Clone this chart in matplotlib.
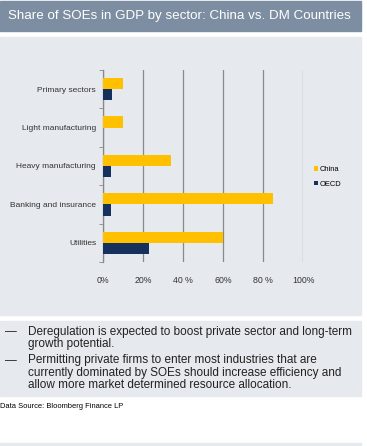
import matplotlib
matplotlib.use("Agg")
import matplotlib.pyplot as plt
from matplotlib.patches import Rectangle
import numpy as np

plt.rcParams["font.family"] = ["Liberation Sans", "DejaVu Sans"]

sectors = ["Primary sectors", "Light manufacturing", "Heavy manufacturing",
           "Banking and insurance", "Utilities"]
china = [10, 10, 34, 85, 60]
oecd = [4.5, 0, 4, 4, 23]
xticks = [0, 20, 40, 60, 80, 100]
xtick_labels = ["0%", "20%", "40 %", "60%", "80 %", "100%"]

title = "Share of SOEs in GDP by sector: China vs. DM Countries"
bullets = [
    "Deregulation is expected to boost private sector and long-term\ngrowth potential.",
    "Permitting private firms to enter most industries that are\ncurrently dominated by SOEs should increase efficiency and\nallow more market determined resource allocation.",
]
source = "Data Source: Bloomberg Finance LP"

W, H = 367, 446
fig = plt.figure(figsize=(W / 100, H / 100), dpi=100)
fig.patch.set_facecolor("white")


def fx(px):
    return px / W


def fy(py):
    return 1 - py / H


def box(x0, y0, x1, y1, color):
    fig.patches.append(Rectangle((fx(x0), fy(y1)), fx(x1) - fx(x0), fy(y0) - fy(y1),
                                 transform=fig.transFigure, color=color, zorder=-5))


# header bar + panels
box(0, 1, 361, 31, "#7e8ea2")
fig.text(fx(8), fy(16), title, color="white", fontsize=9.6, va="center", ha="left")
box(0, 37, 361, 315, "#e6e9ed")
box(0, 321, 361, 396, "#e6e9ed")
box(0, 443, 361, 446, "#e6e9ed")

# chart
ax = fig.add_axes([fx(103), fy(262), fx(303) - fx(103), fy(70) - fy(262)])
ax.set_zorder(2)
ax.set_facecolor("none")
y = np.arange(len(sectors))
h = 0.29
ax.barh(y - h / 2, china, height=h, color="#ffc000", label="China", zorder=3)
ax.barh(y + h / 2, oecd, height=h, color="#17315e", label="OECD", zorder=3)
ax.set_ylim(len(sectors) - 0.5, -0.5)
ax.set_xlim(0, 100)
ax.set_yticks(y)
ax.set_yticklabels(sectors, fontsize=6.0, color="#333333")
ax.tick_params(axis="y", length=0, pad=5)
ax.set_yticks(np.arange(len(sectors) + 1) - 0.5, minor=True)
ax.tick_params(axis="y", which="minor", length=3, color="#888888")
ax.set_xticks(xticks)
ax.set_xticklabels(xtick_labels, fontsize=6.3, color="#333333")
ax.tick_params(axis="x", length=0, pad=10)
ax.grid(axis="x", color="#8a8a8a", lw=0.9, zorder=1)
for s in ["top", "right", "bottom"]:
    ax.spines[s].set_visible(False)
ax.spines["left"].set_color("#8a8a8a")
ax.spines["left"].set_linewidth(0.9)
ax.legend(loc="center left", bbox_to_anchor=(fx(314), fy(177)), bbox_transform=fig.transFigure,
          frameon=False, fontsize=5.4, handlelength=0.5, handleheight=0.5,
          handletextpad=0.2, labelspacing=1.0, borderpad=0, borderaxespad=0)

# bullets
ys = [332, 361]
for yy, txt in zip(ys, bullets):
    fig.text(fx(5), fy(yy), "\u2014", fontsize=8.5, va="center", ha="left", color="#222222")
    fig.text(fx(28), fy(yy - 6.5), txt, fontsize=8.5, va="top", ha="left",
             color="#222222", linespacing=1.02)

fig.text(fx(0), fy(407), source, fontsize=5.4, va="center", ha="left", color="black")

fig.savefig("out.png", dpi=100)
